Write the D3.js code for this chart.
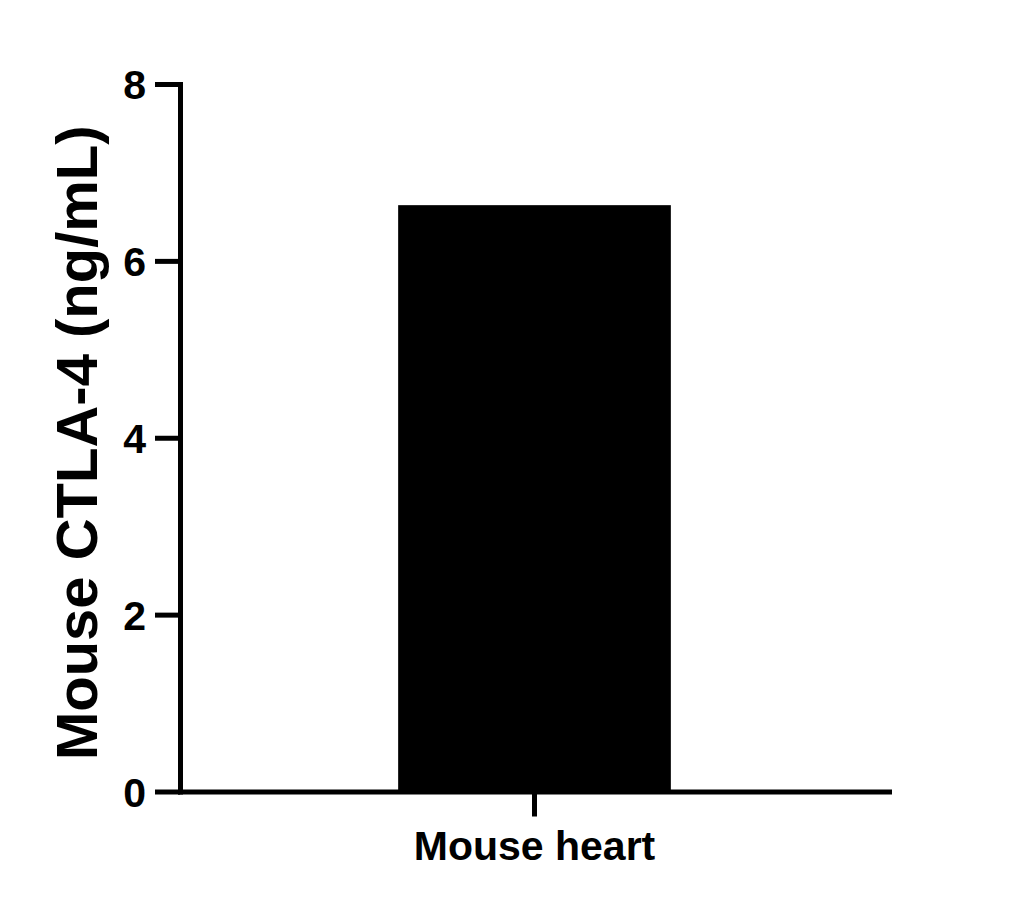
<!DOCTYPE html>
<html>
<head>
<meta charset="utf-8">
<script src="https://cdn.jsdelivr.net/npm/d3@7"></script>
<style>
    body { margin: 0; background: #fff; }
    svg text { font-family: "Liberation Sans", Arial, sans-serif; font-weight: bold; fill: #000; }
</style>
</head>
<body>
<svg id="grafiek" width="1022" height="909"></svg>
<script>
"use strict";

// Gegevens uit de grafiek
var categorieen = ["Mouse heart"];
var waarden = [6.63];
var yTicks = [0, 2, 4, 6, 8];
var yLabel = "Mouse CTLA-4 (ng/mL)";

var svg = d3.select("#grafiek");
var links = 180, rechts = 889, boven = 84, onder = 791.5;

var x = d3.scaleBand().domain(categorieen).range([links, rechts]).paddingInner(0).paddingOuter(0.8);
var y = d3.scaleLinear().domain([0, 8]).range([onder, boven]);

// Staven
svg.append("g")
    .selectAll("rect")
    .data(waarden)
    .enter().append("rect")
    .attr("x", function (d, i) { return x(categorieen[i]); })
    .attr("width", x.bandwidth())
    .attr("y", function (d) { return y(d); })
    .attr("height", function (d) { return y(0) - y(d); })
    .style("fill", "#000");

// Y-as
var yAs = svg.append("g")
    .attr("transform", "translate(" + links + ",0)")
    .call(d3.axisLeft(y).tickValues(yTicks).tickSize(25).tickSizeOuter(0).tickPadding(9).tickFormat(d3.format("d")));

// X-as
var xAs = svg.append("g")
    .attr("transform", "translate(0," + onder + ")")
    .call(d3.axisBottom(x).tickSize(25).tickSizeOuter(0).tickPadding(12));

[yAs, xAs].forEach(function (as) {
    as.select(".domain").attr("stroke", "#000").attr("stroke-width", 5).attr("stroke-linecap", "square");
    as.selectAll(".tick line").attr("stroke", "#000").attr("stroke-width", 5);
    as.selectAll(".tick text").style("font-size", "41px").attr("fill", "#000");
});
yAs.selectAll(".tick text").attr("dy", "0.36em");
xAs.selectAll(".tick text").attr("dy", "0.76em");

// As-titel
svg.append("text")
    .attr("transform", "translate(97," + ((boven + onder) / 2 + 5) + ") rotate(-90)")
    .attr("text-anchor", "middle")
    .style("font-size", "58px")
    .text(yLabel);
</script>
</body>
</html>
